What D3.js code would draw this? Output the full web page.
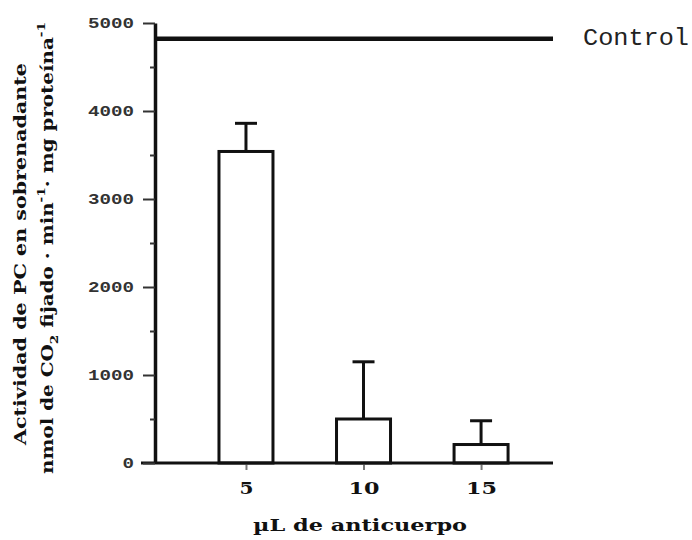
<!DOCTYPE html>
<html>
<head>
<meta charset="utf-8">
<script src="https://cdn.jsdelivr.net/npm/d3@7"></script>
<style>
  html, body { margin: 0; padding: 0; background: #fff; }
  svg { display: block; }
</style>
</head>
<body>
<div id="chart"></div>
<script>
// ---- data ----
const doses = [5, 10, 15];                 // µL de anticuerpo
const means = [3540, 500, 210];            // actividad media
const errors = [320, 650, 270];            // error (barra superior)
const controlValue = 4820;                 // línea Control
const yTicks = [0, 1000, 2000, 3000, 4000, 5000];
const yMinorTicks = [500, 1500, 2500, 3500, 4500];
const xTickLabels = ["5", "10", "15"];

const W = 692, H = 540;
const svg = d3.select("#chart").append("svg").attr("width", W).attr("height", H);

const x = d3.scaleLinear().domain([1.13, 18.06]).range([155, 553]);
const y = d3.scaleLinear().domain([0, 5000]).range([463, 23]);
const barW = 54, capW = 22;
const SERIF = "'DejaVu Serif', 'Liberation Serif', serif";

// control line
svg.append("line")
  .attr("x1", x.range()[0]).attr("x2", x.range()[1])
  .attr("y1", y(controlValue)).attr("y2", y(controlValue))
  .attr("stroke", "#111").attr("stroke-width", 4.5);

svg.append("text")
  .attr("x", 583).attr("y", 45)
  .attr("font-family", "'Liberation Mono', monospace")
  .attr("font-size", 24).attr("fill", "#222")
  .attr("textLength", 106).attr("lengthAdjust", "spacingAndGlyphs")
  .text("Control");

// error bars
const g = svg.append("g");
doses.forEach((d, i) => {
  const cx = x(d);
  g.append("line").attr("x1", cx).attr("x2", cx)
    .attr("y1", y(means[i])).attr("y2", y(means[i] + errors[i]))
    .attr("stroke", "#111").attr("stroke-width", 3);
  g.append("line").attr("x1", cx - capW / 2).attr("x2", cx + capW / 2)
    .attr("y1", y(means[i] + errors[i])).attr("y2", y(means[i] + errors[i]))
    .attr("stroke", "#111").attr("stroke-width", 3);
});

// bars
g.selectAll("rect.bar").data(doses).enter().append("rect")
  .attr("class", "bar")
  .attr("x", d => x(d) - barW / 2)
  .attr("y", (d, i) => y(means[i]))
  .attr("width", barW)
  .attr("height", (d, i) => y(0) - y(means[i]))
  .attr("fill", "#fff").attr("stroke", "#111").attr("stroke-width", 3);

// x axis ticks (down)
const xAxis = d3.axisBottom(x).tickValues(doses).tickSize(7).tickSizeOuter(0)
  .tickFormat((d, i) => xTickLabels[i]).tickPadding(12);
const xg = svg.append("g").attr("transform", `translate(0,${y(0)})`).call(xAxis);
xg.select(".domain").remove();
xg.selectAll(".tick line").attr("stroke", "#777").attr("stroke-width", 2);
xg.selectAll(".tick text")
  .attr("font-family", SERIF).attr("font-weight", "bold")
  .attr("font-size", 17).attr("fill", "#111")
  .attr("textLength", (d, i) => xTickLabels[i].length === 1 ? 14 : 31)
  .attr("lengthAdjust", "spacingAndGlyphs");

// x baseline
svg.append("line").attr("x1", 141).attr("x2", x.range()[1])
  .attr("y1", y(0)).attr("y2", y(0))
  .attr("stroke", "#111").attr("stroke-width", 3);

// y axis
const yAxis = d3.axisLeft(y).tickValues(yTicks).tickSize(12).tickSizeOuter(0).tickPadding(9)
  .tickFormat(d3.format("d"));
const yg = svg.append("g").attr("transform", `translate(155,0)`).call(yAxis);
yg.select(".domain").attr("stroke", "#111").attr("stroke-width", 3.5);
yg.selectAll(".tick line").attr("stroke", "#333").attr("stroke-width", 2);
yg.selectAll(".tick text")
  .attr("font-family", "'Liberation Mono', monospace").attr("font-weight", "bold")
  .attr("font-size", 14).attr("fill", "#333")
  .attr("textLength", d => String(d).length * 11.5)
  .attr("lengthAdjust", "spacingAndGlyphs");

const yMinor = d3.axisLeft(y).tickValues(yMinorTicks).tickSize(5).tickSizeOuter(0).tickFormat("");
const ymg = svg.append("g").attr("transform", `translate(155,0)`).call(yMinor);
ymg.select(".domain").remove();
ymg.selectAll(".tick line").attr("stroke", "#333").attr("stroke-width", 2);

// x title
svg.append("text")
  .attr("x", 360).attr("y", 531).attr("text-anchor", "middle")
  .attr("font-family", SERIF).attr("font-weight", "bold")
  .attr("font-size", 16).attr("fill", "#111")
  .attr("textLength", 214).attr("lengthAdjust", "spacingAndGlyphs")
  .text("µL de anticuerpo");

// y titles
svg.append("text")
  .attr("transform", "translate(26,254) rotate(-90)")
  .attr("text-anchor", "middle")
  .attr("font-family", SERIF).attr("font-weight", "bold")
  .attr("font-size", 16).attr("fill", "#111")
  .attr("textLength", 382).attr("lengthAdjust", "spacingAndGlyphs")
  .text("Actividad de PC en sobrenadante");

const t2 = svg.append("text")
  .attr("transform", "translate(53,248) rotate(-90)")
  .attr("text-anchor", "middle")
  .attr("font-family", SERIF).attr("font-weight", "bold")
  .attr("font-size", 16).attr("fill", "#111")
  .attr("textLength", 452).attr("lengthAdjust", "spacingAndGlyphs");
t2.append("tspan").text("nmol de CO");
t2.append("tspan").attr("font-size", 11).attr("dy", 5).text("2");
t2.append("tspan").attr("dy", -5).text(" fijado · min");
t2.append("tspan").attr("font-size", 11).attr("dy", -8).text("-1");
t2.append("tspan").attr("dy", 8).text("· mg proteína");
t2.append("tspan").attr("font-size", 11).attr("dy", -8).text("-1");
</script>
</body>
</html>
